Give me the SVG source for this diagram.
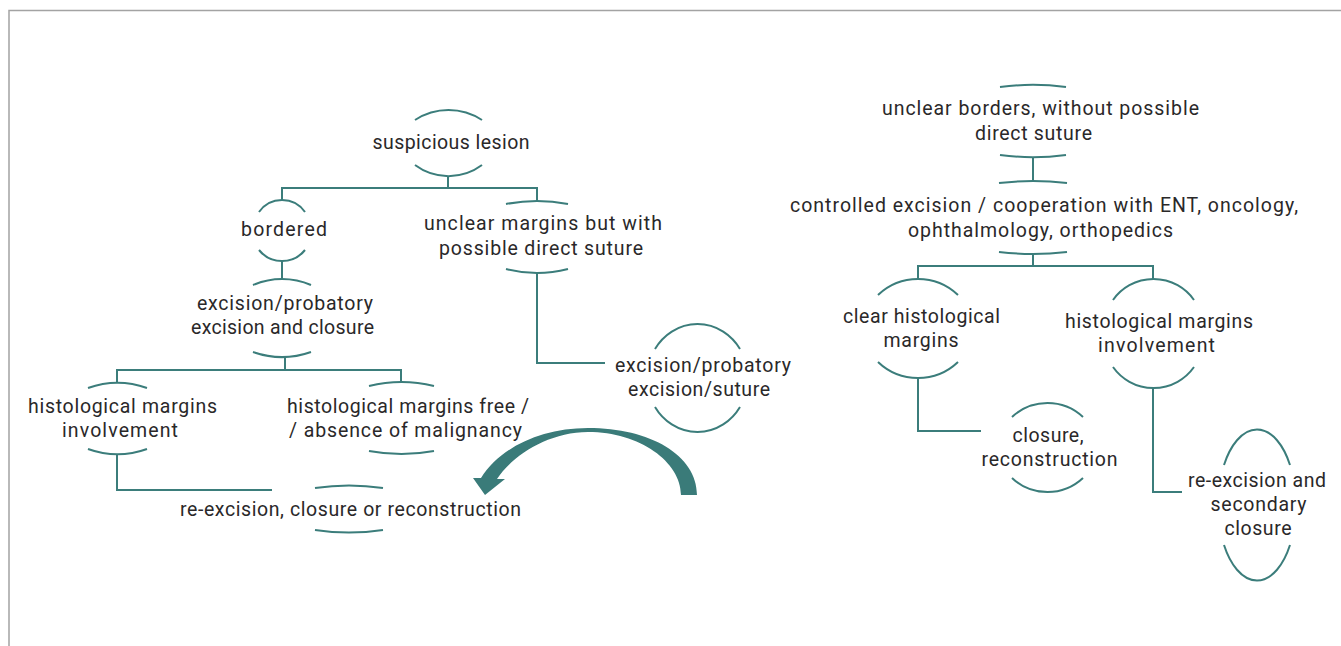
<svg xmlns="http://www.w3.org/2000/svg" width="1341" height="646" viewBox="0 0 1341 646">
<style>
.t{font-family:Roboto,"Open Sans","Liberation Sans",sans-serif;font-size:19.5px;fill:#2a2829;text-anchor:middle}
.a{fill:none;stroke:#3b7d7b;stroke-width:2}
.c{fill:none;stroke:#3b7d7b;stroke-width:2}
.frame{fill:none;stroke:#a3a3a3;stroke-width:1.5}
</style>
<rect width="1341" height="646" fill="#ffffff"/>
<path class="frame" d="M9,646 V10.5 H1341"/>
<g id="connectors">
<path class="c" d="M448,176 V188"/>
<path class="c" d="M282,200 V188 H537 V202"/>
<path class="c" d="M282,261 V279"/>
<path class="c" d="M537,273 V363 H605"/>
<path class="c" d="M285,357 V370"/>
<path class="c" d="M117,382 V370 H401 V383"/>
<path class="c" d="M117,454 V490 H272"/>
<path class="c" d="M1033,157 V182"/>
<path class="c" d="M1033,254 V266"/>
<path class="c" d="M918,279 V266 H1153 V279"/>
<path class="c" d="M918,378 V431 H981"/>
<path class="c" d="M1153,388 V492 H1182"/>
<path id="bigarrow" fill="#3a7b79" d="M697,495 C697,455 650,428 588,428 C540,428 500,448 481,478 L473,478 L485,495 L505,479 L497,479 C512,456 548,432 588,432 C640,432 681,462 681,495 Z"/>
</g>
<g id="n-suspicious">
<path class="a" d="M415,120 A61,61 0 0 1 482,120"/>
<path class="a" d="M415,165 A56,56 0 0 0 482,165"/>
<text class="t" x="451" y="149" textLength="157">suspicious lesion</text>
</g>
<g id="n-bordered">
<path class="a" d="M259,212 A28,28 0 0 1 305,212"/>
<path class="a" d="M259,250 A29.5,29.5 0 0 0 305,250"/>
<text class="t" x="284" y="236" textLength="86">bordered</text>
</g>
<g id="n-unclear-margins">
<path class="a" d="M506,204 A160,160 0 0 1 568,204"/>
<path class="a" d="M506,269 A122,122 0 0 0 568,269"/>
<text class="t" x="543" y="230" textLength="238">unclear margins but with</text>
<text class="t" x="541" y="255" textLength="204">possible direct suture</text>
</g>
<g id="n-excision-closure">
<path class="a" d="M253,285 A73,73 0 0 1 311,285"/>
<path class="a" d="M253,352 A87,87 0 0 0 311,352"/>
<text class="t" x="285" y="310" textLength="176">excision/probatory</text>
<text class="t" x="282.5" y="334" textLength="183">excision and closure</text>
</g>
<g id="n-hist-involvement-left">
<path class="a" d="M88,388 A87,87 0 0 1 147,388"/>
<path class="a" d="M88,449 A87,87 0 0 0 147,449"/>
<text class="t" x="122.5" y="413" textLength="189">histological margins</text>
<text class="t" x="120" y="437" textLength="116">involvement</text>
</g>
<g id="n-hist-free">
<path class="a" d="M369,386 A134,134 0 0 1 434,386"/>
<path class="a" d="M369,451 A177,177 0 0 0 434,451"/>
<text class="t" x="408" y="413" textLength="242">histological margins free /</text>
<text class="t" x="405.5" y="437" textLength="233">/ absence of malignancy</text>
</g>
<g id="n-reexcision">
<path class="a" d="M315,488 A225,225 0 0 1 383,488"/>
<path class="a" d="M315,530 A225,225 0 0 0 383,530"/>
<text class="t" x="350.5" y="516" textLength="341">re-excision, closure or reconstruction</text>
</g>
<g id="n-excision-suture">
<path class="a" d="M655,349 A50.4,54 0 0 1 740,349"/>
<path class="a" d="M655,407 A50.4,54 0 0 0 740,407"/>
<text class="t" x="703" y="372" textLength="176">excision/probatory</text>
<text class="t" x="699" y="396" textLength="142">excision/suture</text>
</g>
<g id="n-unclear-borders">
<path class="a" d="M1000,87 A250,250 0 0 1 1066,87"/>
<path class="a" d="M1000,155 A250,250 0 0 0 1066,155"/>
<text class="t" x="1040.5" y="115" textLength="317">unclear borders, without possible</text>
<text class="t" x="1033.5" y="140" textLength="117">direct suture</text>
</g>
<g id="n-controlled">
<path class="a" d="M999,183 A290,290 0 0 1 1067,183"/>
<path class="a" d="M999,252 A290,290 0 0 0 1067,252"/>
<text class="t" x="1044" y="212" textLength="508">controlled excision / cooperation with ENT, oncology,</text>
<text class="t" x="1040.5" y="237" textLength="265">ophthalmology, orthopedics</text>
</g>
<g id="n-clear-hist">
<path class="a" d="M878,295 A58,58 0 0 1 958,295"/>
<path class="a" d="M878,362 A58,58 0 0 0 958,362"/>
<text class="t" x="921.5" y="323" textLength="157">clear histological</text>
<text class="t" x="921" y="347" textLength="75">margins</text>
</g>
<g id="n-hist-involvement-right">
<path class="a" d="M1113,300 A49.5,49.5 0 0 1 1194,300"/>
<path class="a" d="M1113,367 A49.5,49.5 0 0 0 1194,367"/>
<text class="t" x="1159" y="328" textLength="188">histological margins</text>
<text class="t" x="1156.5" y="352" textLength="117">involvement</text>
</g>
<g id="n-closure-reconstruction">
<path class="a" d="M1012,417 A52,52 0 0 1 1083,417"/>
<path class="a" d="M1012,478 A52,52 0 0 0 1083,478"/>
<text class="t" x="1048" y="442" textLength="71">closure,</text>
<text class="t" x="1049.5" y="466" textLength="136">reconstruction</text>
</g>
<g id="n-reexcision-secondary">
<path class="a" d="M1224,465 A39,76 0 0 1 1290,465"/>
<path class="a" d="M1224,545 A39,76 0 0 0 1290,545"/>
<text class="t" x="1257" y="487" textLength="138">re-excision and</text>
<text class="t" x="1258.5" y="511" textLength="96">secondary</text>
<text class="t" x="1258" y="535" textLength="67">closure</text>
</g>
</svg>
